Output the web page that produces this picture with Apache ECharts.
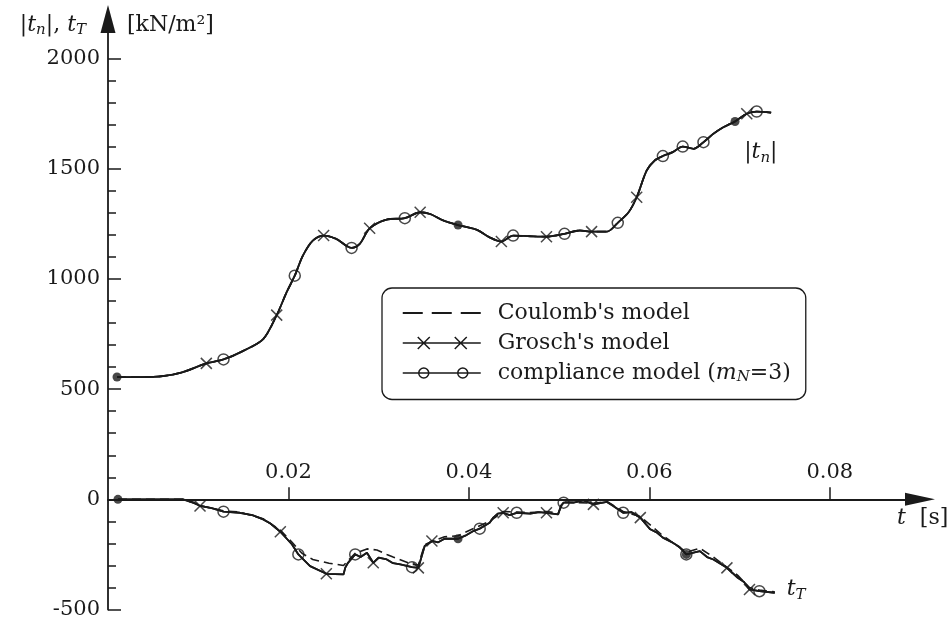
<!DOCTYPE html>
<html>
<head>
<meta charset="utf-8">
<script src="https://cdn.jsdelivr.net/npm/echarts@6.0.0/dist/echarts.min.js"></script>
<style>
  html, body { margin: 0; padding: 0; background: #fff; }
  #main { width: 951px; height: 623px; }
</style>
</head>
<body>
<div id="main"></div>
<script>
  // |t_n| : the three models lie on top of each other
  const tnTime = [0.001, 0.005, 0.008, 0.0109, 0.0128, 0.015, 0.0172, 0.0187, 0.0198, 0.0207,
    0.0216, 0.0227, 0.0239, 0.0253, 0.027, 0.0279, 0.029, 0.0309, 0.0329, 0.0346,
    0.0357, 0.0372, 0.0388, 0.0409, 0.0423, 0.0436, 0.0449, 0.0468, 0.0486, 0.0506,
    0.0523, 0.0536, 0.0553, 0.0565, 0.0577, 0.0586, 0.0597, 0.0606, 0.0615, 0.0626,
    0.0637, 0.0649, 0.066, 0.0671, 0.0682, 0.0695, 0.0708, 0.0719, 0.0735];
  const tnValue = [555, 556, 574, 617, 635, 674, 727, 836, 940, 1015,
    1106, 1174, 1197, 1182, 1141, 1159, 1230, 1270, 1276, 1303,
    1295, 1265, 1245, 1223, 1189, 1170, 1197, 1194, 1192, 1205,
    1220, 1215, 1215, 1255, 1303, 1371, 1492, 1538, 1558, 1576,
    1601, 1591, 1621, 1659, 1689, 1715, 1750, 1760, 1755];

  // t_T : Grosch's / compliance model (solid)
  const tTTime = [0.0011, 0.005, 0.0083, 0.0095, 0.0102, 0.0115, 0.0128, 0.0146, 0.016, 0.0172,
    0.018, 0.0191, 0.0204, 0.0211, 0.0224, 0.0242, 0.0261, 0.0263, 0.0266, 0.0274,
    0.028, 0.0287, 0.0294, 0.03, 0.0309, 0.0316, 0.0324, 0.0337, 0.0344, 0.0351,
    0.0359, 0.0366, 0.0373, 0.0388, 0.0396, 0.0405, 0.0412, 0.0423, 0.0427, 0.0432,
    0.0438, 0.0445, 0.0453, 0.0468, 0.0478, 0.0486, 0.0499, 0.0502, 0.0505, 0.0516,
    0.0527, 0.0538, 0.0553, 0.056, 0.0571, 0.058, 0.059, 0.0601, 0.0608, 0.0615,
    0.0626, 0.0633, 0.0641, 0.0656, 0.0664, 0.0671, 0.0686, 0.0698, 0.0705, 0.0711,
    0.0722, 0.0739];
  const tTValue = [0, 0, 0, -15, -30, -40, -56, -61, -72, -91,
    -110, -147, -205, -250, -303, -338, -341, -310, -288, -250,
    -262, -242, -288, -265, -273, -290, -295, -308, -311, -212,
    -189, -195, -179, -179, -165, -144, -133, -106, -83, -65,
    -61, -72, -61, -65, -58, -61, -68, -30, -15, -15,
    -5, -23, -12, -30, -61, -58, -83, -136, -150, -174,
    -197, -215, -250, -235, -262, -273, -311, -356, -375, -409,
    -417, -424];

  // t_T : Coulomb's model (dashed)
  const tTCoulombTime = [0.0011, 0.0083, 0.0102, 0.0128, 0.0146, 0.0172, 0.0191, 0.0204, 0.0215, 0.0227,
    0.0245, 0.0261, 0.0274, 0.0287, 0.0298, 0.0309, 0.0316, 0.0337, 0.0344, 0.0351,
    0.0373, 0.0388, 0.0407, 0.0423, 0.0438, 0.0468, 0.0486, 0.0499, 0.0505, 0.0538,
    0.0553, 0.0571, 0.059, 0.0615, 0.0641, 0.0656, 0.0671, 0.0698, 0.0711, 0.0722, 0.0739];
  const tTCoulombValue = [0, 0, -28, -52, -58, -88, -140, -195, -245, -273,
    -290, -300, -245, -225, -230, -250, -262, -295, -298, -205,
    -170, -165, -129, -100, -55, -60, -55, -62, -12, -18,
    -10, -55, -78, -165, -240, -222, -262, -345, -400, -412, -420];

  // markers
  const groschMarkT = [0.0109, 0.0187, 0.0239, 0.029, 0.0346, 0.0436, 0.0486, 0.0536, 0.0586, 0.0708,
    0.0102, 0.0191, 0.0242, 0.0294, 0.0344, 0.0359, 0.0438, 0.0486, 0.0538, 0.059, 0.0686, 0.0711];
  const groschMarkV = [617, 836, 1197, 1230, 1303, 1170, 1192, 1215, 1371, 1750,
    -30, -147, -338, -288, -311, -189, -61, -61, -23, -83, -311, -409];
  const complianceMarkT = [0.0128, 0.0207, 0.027, 0.0329, 0.0449, 0.0506, 0.0565, 0.0615, 0.0637, 0.066, 0.0719,
    0.0128, 0.0211, 0.0274, 0.0337, 0.0412, 0.0453, 0.0505, 0.0571, 0.0641, 0.0722];
  const complianceMarkV = [635, 1015, 1141, 1276, 1197, 1205, 1255, 1558, 1601, 1621, 1760,
    -56, -250, -250, -308, -133, -61, -15, -61, -250, -417];
  const dotT = [0.001, 0.0011, 0.0388, 0.0695, 0.0388, 0.0641];
  const dotV = [555, 0, 1245, 1715, -179, -250];

  const xTicks = [0.02, 0.04, 0.06, 0.08];
  const yTicks = [-500, 0, 500, 1000, 1500, 2000];
  const yMinorTicks = [];
  for (let v = -500; v <= 2000; v += 100) yMinorTicks.push(v);

  const ink = '#1a1a1a';
  const serif = 'DejaVu Serif';
  const complianceName = 'compliance model (mN=3)';

  function pairs(xs, ys) {
    return xs.map(function (x, i) { return [x, ys[i]]; });
  }

  let myChart = echarts.init(document.getElementById('main'));

  const solidLine = { color: ink, width: 1.8 };
  const dashLine = { color: ink, width: 1.6, type: [9, 5] };
  const hollow = { color: 'rgba(0,0,0,0)', borderColor: ink, borderWidth: 1.5 };

  myChart.setOption({
    animation: false,
    backgroundColor: '#fff',
    grid: { left: 108, right: 31, top: 19, bottom: 13.5, outerBoundsMode: 'none' },
    xAxis: {
      type: 'value',
      position: 'bottom',
      min: 0,
      max: 0.09,
      axisLine: {
        onZero: true,
        onZeroAxisIndex: 0,
        symbol: ['none', 'triangle'],
        symbolSize: [13, 30],
        lineStyle: { color: ink, width: 1.8 }
      },
      axisTick: { inside: true, length: 12, customValues: xTicks, lineStyle: { color: ink, width: 1.5 } },
      // labels sit at the grid edge in v6, so pull them back up to the zero line
      axisLabel: {
        inside: false, margin: -126, verticalAlign: 'bottom', customValues: xTicks,
        color: ink, fontFamily: serif, fontSize: 21
      },
      splitLine: { show: false }
    },
    yAxis: [
      {
        type: 'value',
        position: 'left',
        min: -500,
        max: 2180,
        axisLine: {
          show: true,
          symbol: ['none', 'triangle'],
          symbolSize: [15, 28],
          lineStyle: { color: ink, width: 1.8 }
        },
        axisTick: { show: true, inside: true, length: 13, customValues: yTicks, lineStyle: { color: ink, width: 1.5 } },
        axisLabel: {
          margin: 8, customValues: yTicks, color: ink, fontFamily: serif, fontSize: 21,
          formatter: function (v) { return String(v); }
        },
        splitLine: { show: false }
      },
      {
        type: 'value',
        position: 'left',
        min: -500,
        max: 2180,
        axisLine: { show: false },
        axisTick: { show: true, inside: true, length: 8, customValues: yMinorTicks, lineStyle: { color: ink, width: 1.5 } },
        axisLabel: { show: false },
        splitLine: { show: false }
      }
    ],
    legend: {
      left: 382,
      top: 288,
      orient: 'vertical',
      padding: [14, 15, 15, 20],
      itemGap: 8,
      itemWidth: 78,
      itemHeight: 12,
      borderColor: ink,
      borderWidth: 1.3,
      borderRadius: 10,
      backgroundColor: '#fff',
      formatter: function (name) {
        if (name === complianceName) return 'compliance model ({i|m}{s|N}=3)';
        return name;
      },
      textStyle: {
        color: ink,
        fontFamily: serif,
        fontSize: 22,
        lineHeight: 22,
        padding: [0, 0, 0, 12],
        rich: {
          i: { fontFamily: serif, fontSize: 22, fontStyle: 'italic', color: ink },
          s: { fontFamily: serif, fontSize: 15, fontStyle: 'italic', color: ink, padding: [8, 0, 0, 0] }
        }
      },
      data: [
        {
          name: "Coulomb's model",
          icon: 'path://M0 0L20 0L20 2L0 2Z M29 0L49 0L49 2L29 2Z M58 0L78 0L78 2L58 2Z',
          itemStyle: { color: ink, borderWidth: 0 }
        },
        {
          name: "Grosch's model",
          icon: 'path://M0 6L78 6 M15 0L27 12 M15 12L27 0 M52 0L64 12 M52 12L64 0',
          itemStyle: hollow
        },
        {
          name: complianceName,
          icon: 'path://M0 6L78 6 M26 6A5 5 0 1 1 16 6A5 5 0 1 1 26 6 M65 6A5 5 0 1 1 55 6A5 5 0 1 1 65 6',
          itemStyle: hollow
        }
      ]
    },
    series: [
      {
        name: "Coulomb's model", type: 'line', symbol: 'none', smooth: 0.3,
        lineStyle: dashLine, data: pairs(tnTime, tnValue), z: 2
      },
      {
        name: "Coulomb's model", type: 'line', symbol: 'none',
        lineStyle: dashLine, data: pairs(tTCoulombTime, tTCoulombValue), z: 2
      },
      {
        name: "Grosch's model", type: 'line', symbol: 'none', smooth: 0.3,
        lineStyle: solidLine, data: pairs(tnTime, tnValue), z: 3
      },
      {
        name: "Grosch's model", type: 'line', symbol: 'none',
        lineStyle: solidLine, data: pairs(tTTime, tTValue), z: 3
      },
      {
        name: "Grosch's model", type: 'scatter',
        symbol: 'path://M0 0L10 10 M0 10L10 0', symbolSize: 11,
        itemStyle: hollow, data: pairs(groschMarkT, groschMarkV), z: 4
      },
      {
        name: complianceName, type: 'line', symbol: 'none', smooth: 0.3,
        lineStyle: solidLine, data: pairs(tnTime, tnValue), z: 3
      },
      {
        name: complianceName, type: 'line', symbol: 'none',
        lineStyle: solidLine, data: pairs(tTTime, tTValue), z: 3
      },
      {
        name: complianceName, type: 'scatter', symbol: 'circle', symbolSize: 11,
        itemStyle: hollow, data: pairs(complianceMarkT, complianceMarkV), z: 4
      },
      {
        name: 'dots', type: 'scatter', symbol: 'circle', symbolSize: 9,
        itemStyle: { color: ink }, data: pairs(dotT, dotV), z: 5
      }
    ]
  });

  // curve labels next to the ends of the curves, axis names at the arrows
  const nEnd = myChart.convertToPixel({ xAxisIndex: 0, yAxisIndex: 0 },
    [tnTime[tnTime.length - 1], tnValue[tnValue.length - 1]]);
  const tEnd = myChart.convertToPixel({ xAxisIndex: 0, yAxisIndex: 0 },
    [tTTime[tTTime.length - 1], tTValue[tTValue.length - 1]]);
  const rich = {
    i: { fontFamily: serif, fontSize: 22, fontStyle: 'italic', fill: ink },
    s: { fontFamily: serif, fontSize: 15, fontStyle: 'italic', fill: ink, padding: [10, 0, 0, 0] }
  };
  const textBase = { font: '22px "DejaVu Serif"', fill: ink, verticalAlign: 'middle', rich: rich };

  myChart.setOption({
    graphic: [
      { type: 'text', x: nEnd[0] - 27, y: nEnd[1] + 40,
        style: Object.assign({}, textBase, { text: '|{i|t}{s|n}|', align: 'left' }) },
      { type: 'text', x: tEnd[0] + 12, y: tEnd[1] - 3,
        style: Object.assign({}, textBase, { text: '{i|t}{s|T}', align: 'left' }) },
      { type: 'text', x: 86, y: 25,
        style: Object.assign({}, textBase, { text: '|{i|t}{s|n}|, {i|t}{s|T}', align: 'right' }) },
      { type: 'text', x: 127, y: 25,
        style: Object.assign({}, textBase, { text: '[kN/m²]', align: 'left' }) },
      { type: 'text', x: 897, y: 518,
        style: Object.assign({}, textBase, { text: '{i|t}  [s]', align: 'left' }) }
    ]
  });
</script>
</body>
</html>
